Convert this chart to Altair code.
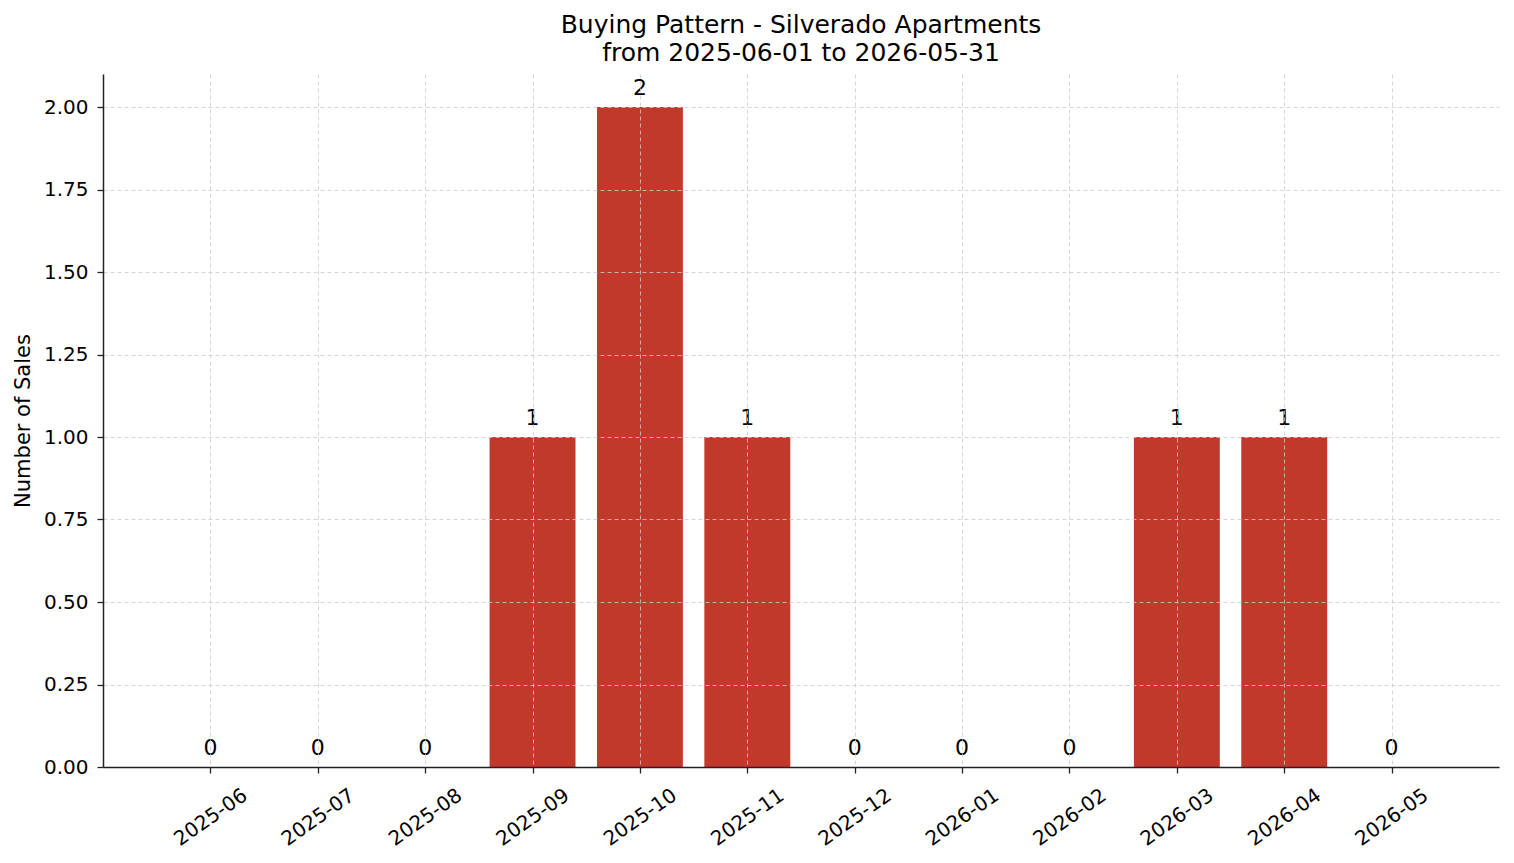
import altair as alt
import pandas as pd

months = ["2025-06", "2025-07", "2025-08", "2025-09", "2025-10", "2025-11",
          "2025-12", "2026-01", "2026-02", "2026-03", "2026-04", "2026-05"]
sales = [0, 0, 0, 1, 2, 1, 0, 0, 0, 1, 1, 0]
y_ticks = [0, 0.25, 0.5, 0.75, 1.0, 1.25, 1.5, 1.75, 2.0]

df = pd.DataFrame({"idx": list(range(len(months))), "month": months, "sales": sales})

FONT = "DejaVu Sans"
months_js = "[" + ",".join(f"'{m}'" for m in months) + "]"

base = alt.Chart(df)

x_axis = alt.Axis(
    values=list(range(len(months))),
    labelExpr=f"{months_js}[datum.value]",
    labelAngle=-35, labelAlign="center", labelBaseline="middle",
    labelPadding=44, labelFontSize=20, labelFont=FONT, labelColor="#000",
    tickSize=6, tickColor="#222", tickWidth=1.3,
    domainColor="#222", domainWidth=1.5,
    grid=True, gridColor="#cccccc", gridDash=[4, 3], gridWidth=0.8,
    title=None, zindex=1,
)
y_axis = alt.Axis(
    values=y_ticks, format=".2f",
    labelFontSize=20, labelFont=FONT, labelColor="#000", labelPadding=9,
    tickSize=6, tickColor="#222", tickWidth=1.3,
    domainColor="#222", domainWidth=1.5,
    grid=True, gridColor="#cccccc", gridDash=[4, 3], gridWidth=0.8,
    title="Number of Sales", titleFontSize=21, titleFont=FONT,
    titleFontWeight="normal", titleColor="#000", titlePadding=10, zindex=1,
)

bars = base.transform_calculate(
    x0="datum.idx - 0.4", x1="datum.idx + 0.4"
).mark_rect(color="#c0392b").encode(
    x=alt.X("x0:Q", scale=alt.Scale(domain=[-1, 12], nice=False, zero=False), axis=x_axis),
    x2="x1:Q",
    y=alt.Y("sales:Q", scale=alt.Scale(domain=[0, 2.1], nice=False), axis=y_axis),
    y2=alt.datum(0),
)

labels = base.mark_text(
    font=FONT, fontSize=22, color="#000", baseline="alphabetic", dy=-12
).encode(
    x=alt.X("idx:Q"),
    y=alt.Y("sales:Q"),
    text=alt.Text("sales:Q", format="d"),
)

chart = alt.layer(bars, labels).properties(
    width=1396, height=693,
    title=alt.TitleParams(
        ["Buying Pattern - Silverado Apartments", "from 2025-06-01 to 2026-05-31"],
        fontSize=25, font=FONT, fontWeight="normal", color="#000",
        lineHeight=28, anchor="middle", offset=8,
    ),
    autosize=alt.AutoSizeParams(type="none"),
    padding={"left": 103, "top": 74, "right": 15, "bottom": 96},
).configure(
    background="white", view=alt.ViewConfig(stroke=None)
)

chart.save("out.html", embed_options={"renderer": "svg", "actions": False})
